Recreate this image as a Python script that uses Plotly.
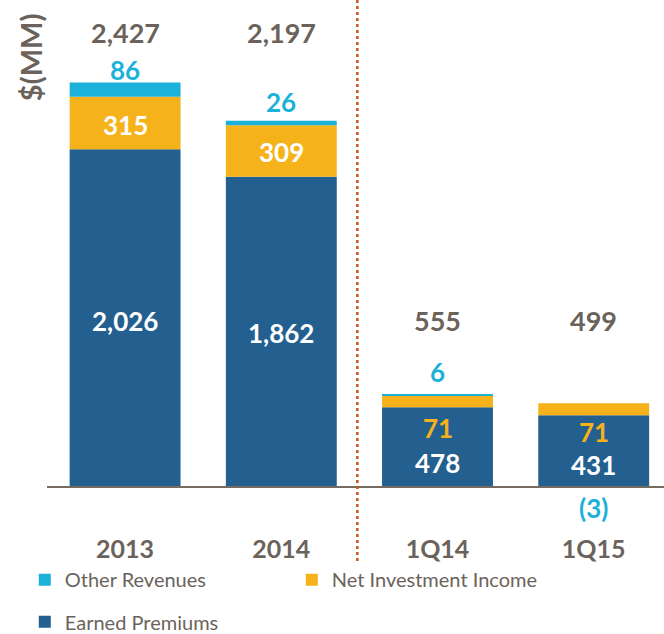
import plotly.graph_objects as go

categories = ["2013", "2014", "1Q14", "1Q15"]
earned_premiums = [2026, 1862, 478, 431]
net_investment_income = [315, 309, 71, 71]
other_revenues = [86, 26, 6, -3]
totals = [2427, 2197, 555, 499]

ep_labels = ["2,026", "1,862", "478", "431"]
nii_labels = ["315", "309", "71", "71"]
or_labels = ["86", "26", "6", "(3)"]
total_labels = ["2,427", "2,197", "555", "499"]

C_EP = "#24608f"
C_NII = "#f5b21a"
C_OR = "#1bb1d8"
C_GRAY = "#6b635b"
FONT = "Lato"

fig = go.Figure()
fig.add_trace(go.Bar(x=categories, y=earned_premiums, name="Earned Premiums",
                     marker=dict(color=C_EP, line=dict(width=0)), legend="legend2"))
fig.add_trace(go.Bar(x=categories, y=net_investment_income, name="Net Investment Income",
                     marker=dict(color=C_NII, line=dict(width=0)), legendrank=2))
fig.add_trace(go.Bar(x=categories, y=other_revenues, name="Other Revenues",
                     marker=dict(color=C_OR, line=dict(width=0)), legendrank=1))

annotations = []
# totals
total_y = [2730, 2730, 1002, 1002]
for i, (t, y) in enumerate(zip(total_labels, total_y)):
    annotations.append(dict(x=i, y=y, text=t, showarrow=False,
                            font=dict(family=FONT, size=27, color=C_GRAY, weight="bold")))
# other revenues
or_y = [2502, 2310, 690, -126]
for i, (t, y) in enumerate(zip(or_labels, or_y)):
    annotations.append(dict(x=i, y=y, text=t, showarrow=False,
                            font=dict(family=FONT, size=26, color=C_OR, weight="bold")))
# net investment income
nii_y = [2172, 2010, 354, 330]
nii_col = ["white", "white", C_NII, C_NII]
for i, (t, y, col) in enumerate(zip(nii_labels, nii_y, nii_col)):
    annotations.append(dict(x=i, y=y, text=t, showarrow=False,
                            font=dict(family=FONT, size=26, color=col, weight="bold")))
# earned premiums
ep_y = [996, 924, 144, 132]
for i, (t, y) in enumerate(zip(ep_labels, ep_y)):
    annotations.append(dict(x=i, y=y, text=t, showarrow=False,
                            font=dict(family=FONT, size=26, color="white", weight="bold")))
# y title
annotations.append(dict(xref="paper", yref="paper", x=-0.027, y=0.91, text="$(MM)",
                        xanchor="center", yanchor="middle",
                        textangle=-90, showarrow=False,
                        font=dict(family=FONT, size=29, color=C_GRAY, weight="bold")))

shapes = [
    dict(type="line", xref="paper", yref="y", x0=0, x1=1, y0=0, y1=0,
         line=dict(color="#756b61", width=2), layer="above"),
    dict(type="line", xref="paper", yref="paper", x0=0.503, x1=0.503, y0=1.019, y1=-0.062,
         line=dict(color="#c9561a", width=2.5, dash="dot"), layer="above"),
]

fig.update_layout(
    width=664, height=634,
    margin=dict(l=47, r=0, t=10, b=104, autoexpand=False),
    barmode="relative", bargap=0.29,
    plot_bgcolor="white", paper_bgcolor="white",
    font=dict(family=FONT, color=C_GRAY),
    xaxis=dict(type="category", range=[-0.5, 3.45], showline=False, showgrid=False, ticks="",
               tickfont=dict(family=FONT, size=25, color=C_GRAY, weight="bold"),
               ticklabelstandoff=2),
    yaxis=dict(range=[-258, 2862], visible=False, showgrid=False, zeroline=False),
    annotations=annotations,
    shapes=shapes,
    legend=dict(orientation="h", x=-0.036, y=-0.058, xanchor="left", yanchor="top",
                entrywidth=222, entrywidthmode="pixels",
                font=dict(family=FONT, size=20, color=C_GRAY), bgcolor="rgba(0,0,0,0)"),
    legend2=dict(orientation="h", x=-0.036, y=-0.139, xanchor="left", yanchor="top",
                 font=dict(family=FONT, size=20, color=C_GRAY), bgcolor="rgba(0,0,0,0)"),
    showlegend=True,
)

fig.write_html("out.html", config={"displayModeBar": False},
               post_script="document.body.style.margin='0';")
